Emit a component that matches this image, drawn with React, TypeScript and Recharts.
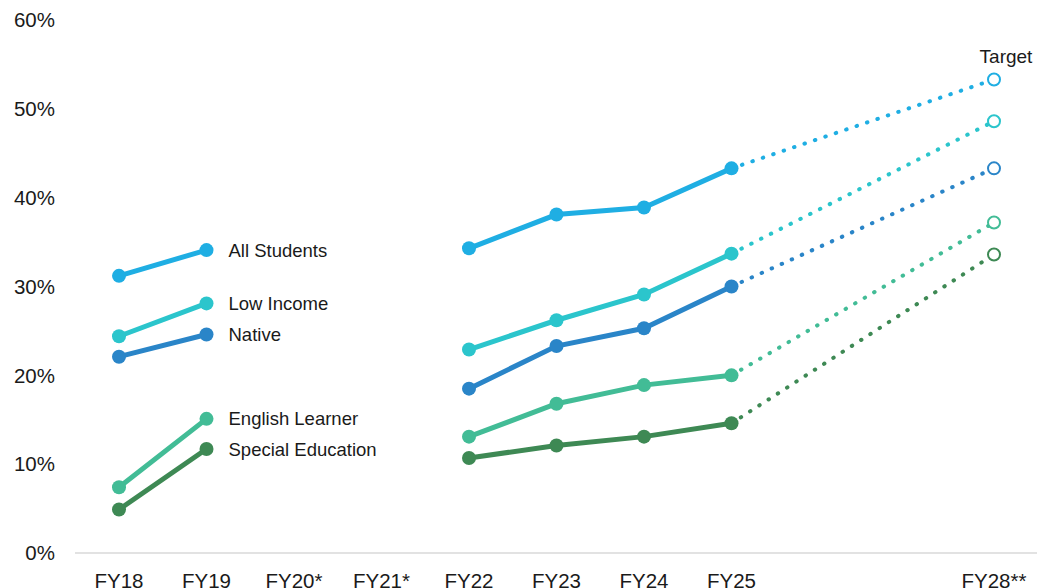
import React from 'react';
import { LineChart, Line, XAxis, YAxis } from 'recharts';

// categories (FY26 / FY27 are spacing slots with no label)
const years = ['FY18', 'FY19', 'FY20*', 'FY21*', 'FY22', 'FY23', 'FY24', 'FY25', 'FY26', 'FY27', 'FY28**'];
const tickLabels = ['FY18', 'FY19', 'FY20*', 'FY21*', 'FY22', 'FY23', 'FY24', 'FY25', '', '', 'FY28**'];
const yTicks = [0, 10, 20, 30, 40, 50, 60];

// percent values, null where there is no data
const allStudents = [31.2, 34.1, null, null, 34.3, 38.1, 38.9, 43.3, null, null, null];
const lowIncome = [24.4, 28.1, null, null, 22.9, 26.2, 29.1, 33.7, null, null, null];
const native = [22.1, 24.6, null, null, 18.5, 23.3, 25.3, 30.0, null, null, null];
const englishLearner = [7.4, 15.1, null, null, 13.1, 16.8, 18.9, 20.0, null, null, null];
const specialEducation = [4.9, 11.7, null, null, 10.7, 12.1, 13.1, 14.6, null, null, null];

// FY28 targets
const targets = [53.3, 48.6, 43.3, 37.2, 33.6];

const seriesNames = ['All Students', 'Low Income', 'Native', 'English Learner', 'Special Education'];
const seriesValues = [allStudents, lowIncome, native, englishLearner, specialEducation];
const seriesColors = ['#1FAEE3', '#2BC5CC', '#2A85C8', '#42BC96', '#3E8954'];

const LAST_ACTUAL = 7;
const TARGET_IDX = 10;
const TEXT = '#1a1a1a';
const FONT = '"Liberation Sans", Arial, sans-serif';

const data = years.map((year, i) => {
  const row: Record<string, any> = { year };
  seriesValues.forEach((vals, s) => {
    row['s' + s] = vals[i];
    row['p' + s] = i === LAST_ACTUAL ? vals[i] : i === TARGET_IDX ? targets[s] : null;
  });
  return row;
});

const solidDot = (color: string, label: string) => (props: any) => {
  const { cx, cy, index } = props;
  if (cx == null || cy == null || props.value == null) return <g key={'sd' + index} />;
  return (
    <g key={'sd' + index}>
      <circle cx={cx} cy={cy} r={7} fill={color} />
      {index === 1 && (
        <text x={cx + 22} y={cy} dy="0.35em" fontSize={18.5} fill={TEXT} fontFamily={FONT}>
          {label}
        </text>
      )}
    </g>
  );
};

const targetDot = (color: string, showTarget: boolean) => (props: any) => {
  const { cx, cy, index } = props;
  if (index !== TARGET_IDX || cx == null || cy == null) return <g key={'td' + index} />;
  return (
    <g key={'td' + index}>
      <circle cx={cx} cy={cy} r={6} fill="#fff" stroke={color} strokeWidth={2} />
      {showTarget && (
        <text x={cx + 12} y={cy - 17} textAnchor="middle" fontSize={19} fill={TEXT} fontFamily={FONT}>
          Target
        </text>
      )}
    </g>
  );
};

export default function App() {
  return (
    <div style={{ position: 'absolute', left: 0, top: 0, background: '#fff' }}>
      <LineChart width={1037} height={588} data={data} margin={{ top: 20, right: 0, bottom: 0, left: 0 }}>
        <XAxis
          dataKey="year"
          interval={0}
          height={35}
          padding={{ left: 44, right: 43 }}
          tickLine={false}
          tickSize={0}
          tickMargin={20}
          axisLine={{ stroke: '#d9d9d9', strokeWidth: 1.5 }}
          tick={{ fontSize: 20.5, fill: TEXT, fontFamily: FONT }}
          tickFormatter={(_v: string, i: number) => tickLabels[i]}
        />
        <YAxis
          width={75}
          domain={[0, 60]}
          ticks={yTicks}
          interval={0}
          axisLine={false}
          tickLine={false}
          tickSize={0}
          tickMargin={20}
          tick={{ fontSize: 20.5, fill: TEXT, fontFamily: FONT }}
          tickFormatter={(v: number) => v + '%'}
        />
        {seriesNames.map((name, s) => (
          <Line
            key={'p' + s}
            dataKey={'p' + s}
            stroke={seriesColors[s]}
            strokeWidth={4}
            strokeDasharray="0.5 10.5"
            strokeLinecap="round"
            connectNulls
            dot={targetDot(seriesColors[s], s === 0)}
            activeDot={false}
            isAnimationActive={false}
          />
        ))}
        {seriesNames.map((name, s) => (
          <Line
            key={'s' + s}
            dataKey={'s' + s}
            name={name}
            stroke={seriesColors[s]}
            strokeWidth={5}
            connectNulls={false}
            dot={solidDot(seriesColors[s], name)}
            activeDot={false}
            isAnimationActive={false}
          />
        ))}
      </LineChart>
    </div>
  );
}
